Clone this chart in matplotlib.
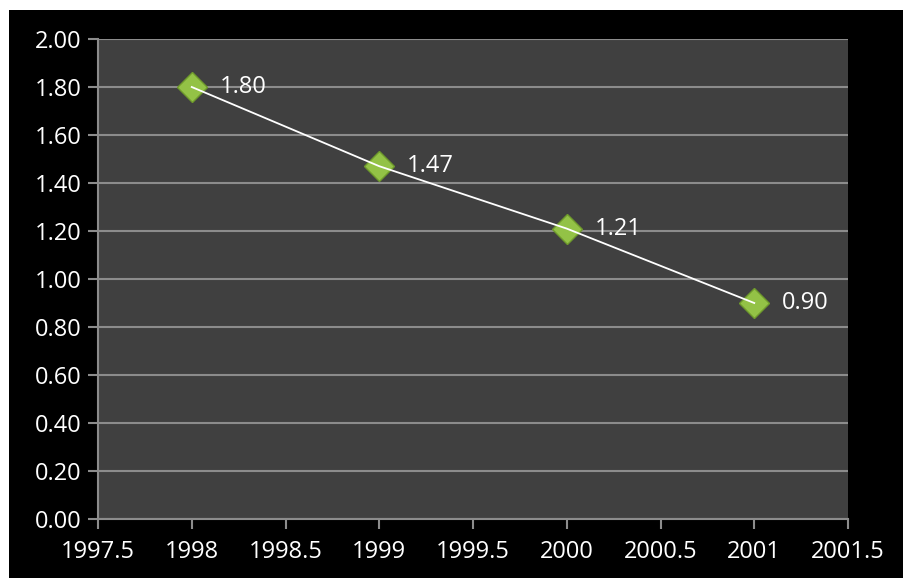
import matplotlib.pyplot as plt
from matplotlib.patches import Rectangle

years = [1998, 1999, 2000, 2001]
values = [1.80, 1.47, 1.21, 0.90]
labels = ["1.80", "1.47", "1.21", "0.90"]

x_ticks = [1997.5, 1998, 1998.5, 1999, 1999.5, 2000, 2000.5, 2001, 2001.5]
x_tick_labels = ["1997.5", "1998", "1998.5", "1999", "1999.5", "2000", "2000.5", "2001", "2001.5"]
y_ticks = [0.0, 0.2, 0.4, 0.6, 0.8, 1.0, 1.2, 1.4, 1.6, 1.8, 2.0]

plt.rcParams['font.family'] = ['Open Sans', 'DejaVu Sans']

fig = plt.figure(figsize=(9.04, 5.78), dpi=100, facecolor="white")
# black chart area with a thin white margin on the left and top
fig.patches.append(Rectangle((9 / 904, 0), 1, (578 - 10) / 578,
                             transform=fig.transFigure, facecolor="black",
                             edgecolor="none", zorder=-10))

ax = fig.add_axes([98 / 904, 59 / 578, 750 / 904, 480 / 578])
ax.set_facecolor("#404040")

ax.set_xlim(1997.5, 2001.5)
ax.set_ylim(0, 2.0)
ax.set_xticks(x_ticks)
ax.set_xticklabels(x_tick_labels)
ax.set_yticks(y_ticks)
ax.set_yticklabels([f"{v:.2f}" for v in y_ticks])

ax.grid(axis="y", color="#8C8C8C", linewidth=1.5)
ax.set_axisbelow(True)

for side in ["top", "right"]:
    ax.spines[side].set_visible(False)
for side in ["left", "bottom"]:
    ax.spines[side].set_color("#8C8C8C")
    ax.spines[side].set_linewidth(1.5)

ax.tick_params(colors="#8C8C8C", labelcolor="white", labelsize=17,
               length=7, width=1.5, direction="out")
ax.tick_params(axis="x", pad=8)
ax.tick_params(axis="y", pad=5)

ax.plot(years, values, linestyle="none", marker="D", markersize=15,
        markerfacecolor="#93C246", markeredgecolor="#6F9A2C",
        markeredgewidth=1, zorder=3)
ax.plot(years, values, color="white", linewidth=1.3, zorder=4)

for x, y, t in zip(years, values, labels):
    ax.annotate(t, (x, y), xytext=(20, 0), textcoords="offset points",
                color="white", fontsize=17, va="center", ha="left")

plt.savefig("out.png", dpi=100, facecolor=fig.get_facecolor())
plt.close()
